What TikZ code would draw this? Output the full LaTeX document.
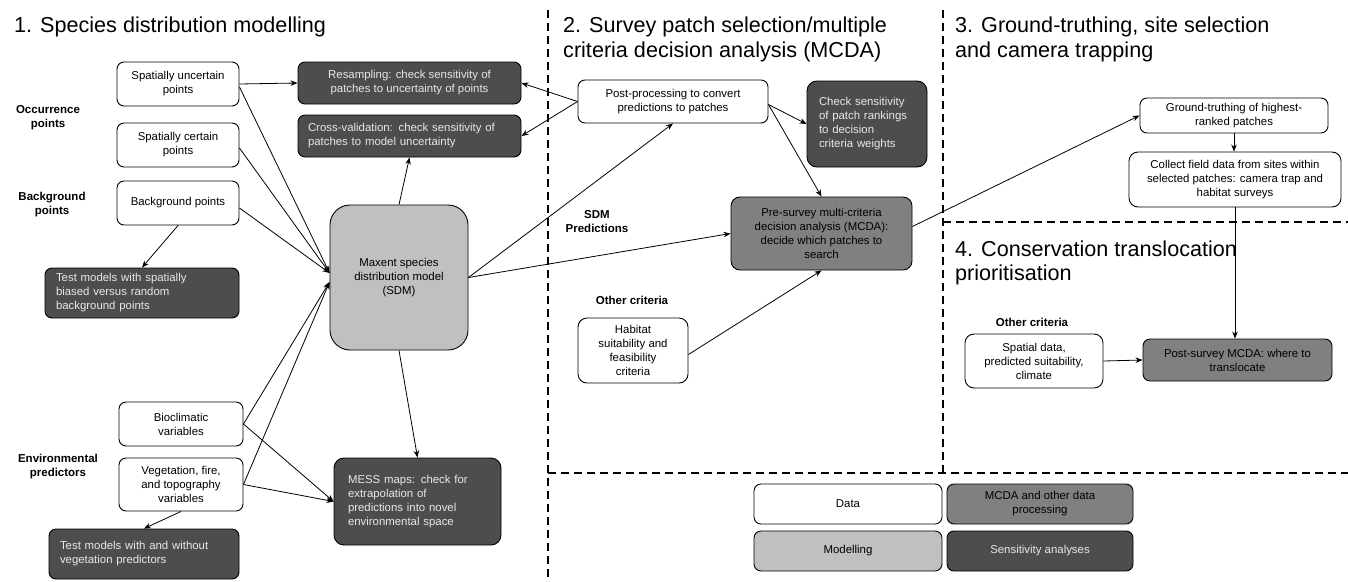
\documentclass[tikz,border=0pt]{standalone}
\usepackage{fontspec}
\setmainfont{Liberation Sans}
\usetikzlibrary{arrows.meta,calc}
\definecolor{sensfill}{RGB}{77,77,77}
\definecolor{mcdafill}{RGB}{128,128,128}
\definecolor{modfill}{RGB}{192,192,192}
\definecolor{senstext}{RGB}{232,232,232}
\tikzset{
  box/.style={draw=black, line width=0.9pt, rounded corners=7pt, inner sep=0pt, align=center, font=\fontsize{11.4}{14}\selectfont},
  databox/.style={box, fill=white},
  sensbox/.style={box, fill=sensfill, text=senstext},
  mcdabox/.style={box, fill=mcdafill},
  modbox/.style={box, fill=modfill},
  lbl/.style={font=\bfseries\fontsize{11.5}{14}\selectfont, align=center, inner sep=0pt},
  ttl/.style={font=\fontsize{21.6}{25}\selectfont, anchor=base west, inner sep=0pt},
  arr/.style={-{Stealth[length=7pt,width=5.5pt]}, line width=0.8pt},
  sepline/.style={line width=1.8pt, dash pattern=on 8pt off 5pt},
}
\begin{document}
\begin{tikzpicture}[x=1pt,y=-1pt]
\useasboundingbox[fill=white] (0,0) rectangle (1348,581);

% separators
\draw[sepline] (548,10) -- (548,581);
\draw[sepline] (943,10) -- (943,473);
\draw[sepline] (548,473) -- (1348,473);
\draw[sepline] (943,222) -- (1348,222);

% titles
\node[ttl] (t1) at (14,32) {1. Species distribution modelling};
\node[ttl] (t2a) at (563,32) {2. Survey patch selection/multiple};
\node[ttl] (t2b) at (563,57) {criteria decision analysis (MCDA)};
\node[ttl] (t3a) at (955,32) {3. Ground-truthing, site selection};
\node[ttl] (t3b) at (955,57) {and camera trapping};
\node[ttl] (t4a) at (955,256) {4. Conservation translocation};
\node[ttl] (t4b) at (955,280) {prioritisation};

% labels
\node[lbl] (l1) at (48,118) {Occurrence\\points};
\node[lbl] (l2) at (52,205) {Background\\points};
\node[lbl] (l3) at (58,467) {Environmental\\predictors};
\node[lbl] (l4) at (597,222) {SDM\\Predictions};
\node[lbl] (l5) at (632,300) {Other criteria};
\node[lbl] (l6) at (1032,322) {Other criteria};

% section 1
\node[databox, minimum width=122pt, minimum height=44pt] (unc) at (178,84) {Spatially uncertain\\points};
\node[databox, minimum width=122pt, minimum height=44pt] (cer) at (178,145) {Spatially certain\\points};
\node[databox, minimum width=122pt, minimum height=44pt] (bgp) at (178,203) {Background points};
\node[databox, minimum width=124pt, minimum height=44pt] (bio) at (181,424) {Bioclimatic\\variables};
\node[databox, minimum width=124pt, minimum height=53pt] (veg) at (181,484.5) {Vegetation, fire,\\and topography\\variables};
\node[sensbox, align=left, text width=172pt, inner xsep=11pt, minimum height=50pt] (tsb) at (142,293) {Test models with spatially\\biased versus random\\background points};
\node[sensbox, align=left, text width=168pt, inner xsep=11pt, minimum height=50pt] (tvg) at (144,554) {Test models with and without\\vegetation predictors};
\node[sensbox, minimum width=223pt, minimum height=42pt] (res) at (409.5,83) {Resampling: check sensitivity of\\patches to uncertainty of points};
\node[sensbox, align=left, text width=203pt, inner xsep=10pt, minimum height=42pt] (cv) at (409.5,136) {Cross-validation: check sensitivity of\\patches to model uncertainty};
\node[modbox, rounded corners=20pt, minimum width=138pt, minimum height=145pt] (sdm) at (399,277.5) {Maxent species\\distribution model\\(SDM)};
\node[sensbox, align=left, text width=139pt, inner xsep=14pt, minimum height=87pt, rounded corners=10pt] (mess) at (417.5,501.5) {MESS maps: check for\\extrapolation of\\predictions into novel\\environmental space};

% section 2
\node[databox, minimum width=190pt, minimum height=43pt] (post) at (673,101.5) {Post-processing to convert\\predictions to patches};
\node[sensbox, align=left, text width=96pt, inner xsep=12pt, minimum height=86pt, rounded corners=10pt] (chk) at (867,124) {Check sensitivity\\of patch rankings\\to decision\\criteria weights};
\node[mcdabox, minimum width=181pt, minimum height=73pt, rounded corners=9pt] (pre) at (821.5,233.5) {Pre-survey multi-criteria\\decision analysis (MCDA):\\decide which patches to\\search};
\node[databox, minimum width=110pt, minimum height=65pt, rounded corners=9pt] (hab) at (633,350.5) {Habitat\\suitability and\\feasibility\\criteria};

% section 3 and 4
\node[databox, minimum width=188pt, minimum height=35pt] (gt) at (1234,115.5) {Ground-truthing of highest-\\ranked patches};
\node[databox, minimum width=212pt, minimum height=55pt, rounded corners=9pt] (col) at (1235,179.5) {Collect field data from sites within\\selected patches: camera trap and\\habitat surveys};
\node[databox, minimum width=138pt, minimum height=54pt, rounded corners=9pt] (spa) at (1034,361) {Spatial data,\\predicted suitability,\\climate};
\node[mcdabox, minimum width=189pt, minimum height=42pt] (pst) at (1237.5,360) {Post-survey MCDA: where to\\translocate};

% legend
\node[databox, minimum width=188pt, minimum height=40pt] (lgd) at (848,504) {Data};
\node[mcdabox, minimum width=186pt, minimum height=40pt] (lgm) at (1040,504) {MCDA and other data\\processing};
\node[modbox, minimum width=188pt, minimum height=40pt] (lgo) at (848,551) {Modelling};
\node[sensbox, minimum width=186pt, minimum height=40pt] (lgs) at (1040,551) {Sensitivity analyses};

% convergence points on SDM
\coordinate (sdmA) at ($(sdm.west)+(0,-4.5)$);
\coordinate (sdmB) at ($(sdm.west)+(0,4.5)$);

% connectors section 1
\draw[arr] (unc.east) -- (res.west);
\draw[arr] ($(unc.east)+(0,3)$) -- (sdmA);
\draw[arr] ($(cer.east)+(0,3)$) -- (sdmA);
\draw[arr] ($(bgp.east)+(0,5)$) -- (sdmA);
\draw[arr] (bio.east) -- (sdmB);
\draw[arr] (veg.east) -- (sdmB);
\draw[arr] (bio.east) -- (mess.west);
\draw[arr] (veg.east) -- (mess.west);
\draw[arr] (bgp.south) -- (tsb.north);
\draw[arr] (veg.south) -- (tvg.north);
\draw[arr] (sdm.north) -- (cv.south);
\draw[arr] (sdm.south) -- (mess.north);

% connectors section 2
\draw[arr] (post.west) -- (res.east);
\draw[arr] (post.west) -- (cv.east);
\draw[arr] (sdm.east) -- (post.south);
\draw[arr] (sdm.east) -- (pre.west);
\draw[arr] ($(post.east)+(0,3)$) -- (chk.west);
\draw[arr] ($(post.east)+(0,3)$) -- (pre.north);
\draw[arr] ($(hab.east)+(0,4)$) -- (pre.south);

% connectors section 3/4
\draw[arr] ($(pre.east)+(0,-7)$) -- (gt.west);
\draw[arr] (gt.south) -- (gt.south |- col.north);
\draw[arr] (col.south) -- (col.south |- pst.north);
\draw[arr] (spa.east) -- (pst.west);
\end{tikzpicture}
\end{document}
